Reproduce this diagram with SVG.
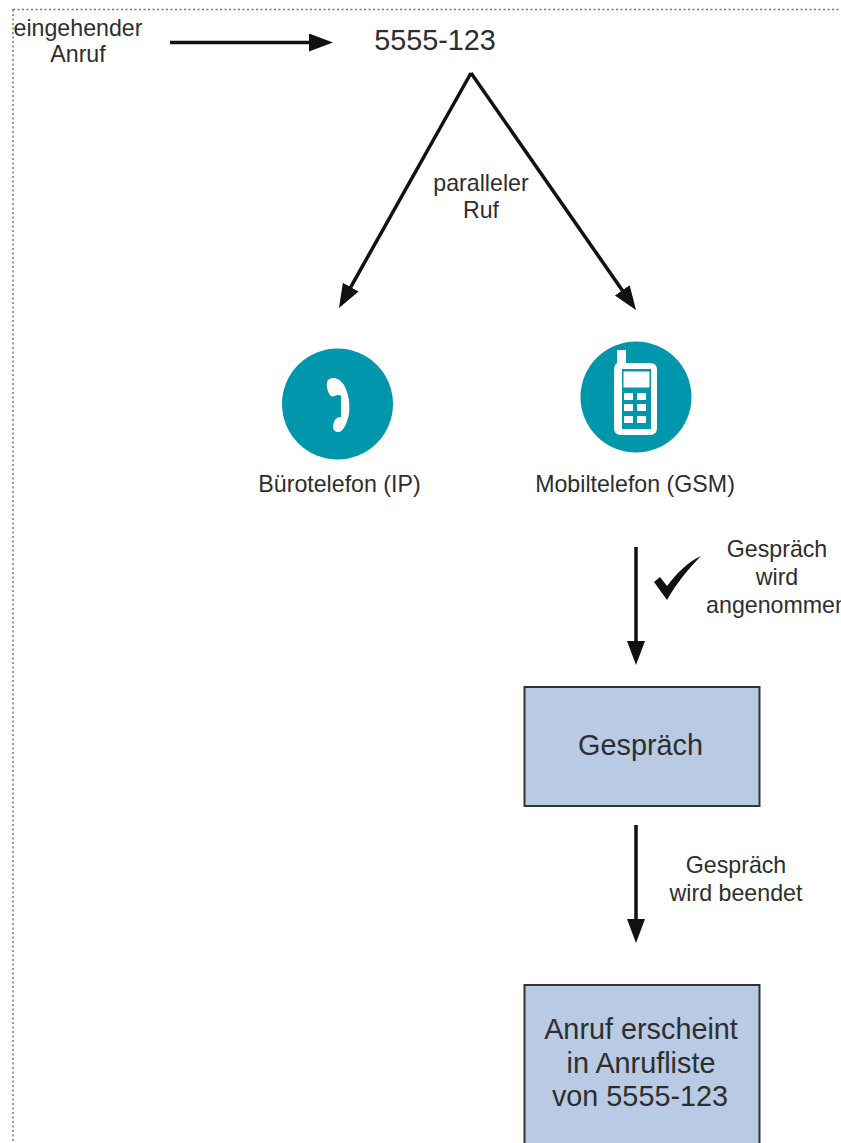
<svg xmlns="http://www.w3.org/2000/svg" width="841" height="1143" viewBox="0 0 841 1143">
<style>
text{font-family:"Liberation Sans",Arial,sans-serif;fill:#2e2e2e;text-anchor:middle}
.s{font-size:23.2px}
.m{font-size:28.800px}
.b{font-size:28.800px}
.c{fill:none;stroke:#111;stroke-width:3.500}
.n{fill:#b8cae4;stroke:#333;stroke-width:2}
.t{fill:#0097ad}
.w{fill:#fff}
</style>
<defs>
<marker id="a" markerUnits="userSpaceOnUse" markerWidth="26" markerHeight="20" refX="6" refY="9" orient="auto"><path d="M0 0L24 9L0 18Z" fill="#111"/></marker>
</defs>
<rect x="13" y="9.500" width="840" height="1150" fill="none" stroke="#777" stroke-width="1.500" stroke-dasharray="2 2.500"/>
<g id="connectors">
<path class="c" d="M170 42.500H315" marker-end="url(#a)"/>
<path class="c" d="M471 73L347.800 292.300" marker-end="url(#a)"/>
<path class="c" d="M471 73L625.700 295.200" marker-end="url(#a)"/>
<path class="c" d="M636 547V647" marker-end="url(#a)"/>
<path class="c" d="M636 825V925" marker-end="url(#a)"/>
</g>
<g id="incoming"><text class="s" x="78" y="36">eingehender</text><text class="s" x="78" y="62">Anruf</text></g>
<g id="number"><text class="m" x="435" y="50">5555-123</text></g>
<g id="parallel"><text class="s" x="481" y="191">paralleler</text><text class="s" x="481" y="218">Ruf</text></g>
<g id="office">
<circle class="t" cx="337.500" cy="404" r="55.500"/>
<path class="w" d="M328 380C332 376 340 378 344 385C350 396 351 412 347 421C345 428 341 433 337 432C333 431 332 427 334 422C335 418 339 417 341 417V396C338 393 333 398 331 396C328 394 325 384 328 380Z"/>
<text class="s" x="339.500" y="492">Bürotelefon (IP)</text>
</g>
<g id="mobile">
<circle class="t" cx="636" cy="397" r="55.500"/>
<path class="w" fill-rule="evenodd" d="M617 350H626V363H650Q657 363 657 370V428Q657 435 650 435H621Q614 435 614 428V370Q614 365 617 363ZM622 369V429H651V369Z"/>
<rect class="w" x="623.500" y="371.500" width="26" height="16"/>
<g class="w"><rect x="624" y="393" width="9" height="7"/><rect x="637" y="393" width="9" height="7"/><rect x="624" y="404" width="9" height="7"/><rect x="637" y="404" width="9" height="7"/><rect x="624" y="416" width="9" height="7"/><rect x="637" y="416" width="9" height="7"/></g>
<text class="s" x="635" y="492">Mobiltelefon (GSM)</text>
</g>
<g id="accepted">
<path fill="#111" d="M654 582L660 577L667 586C677 573 689 561 701 556C689 568 676 584 667 600Z"/>
<text class="s" x="777" y="557">Gespräch</text><text class="s" x="777" y="585">wird</text><text class="s" x="777" y="613">angenommen</text>
</g>
<g id="call"><rect class="n" x="524.500" y="687" width="235" height="119"/><text class="b" x="640.500" y="755">Gespräch</text></g>
<g id="ended"><text class="s" x="736" y="873">Gespräch</text><text class="s" x="736" y="901">wird beendet</text></g>
<g id="list"><rect class="n" x="524.500" y="985" width="235" height="170"/><text class="b" x="641" y="1039">Anruf erscheint</text><text class="b" x="641" y="1073">in Anrufliste</text><text class="b" x="640" y="1106">von 5555-123</text></g>
</svg>
